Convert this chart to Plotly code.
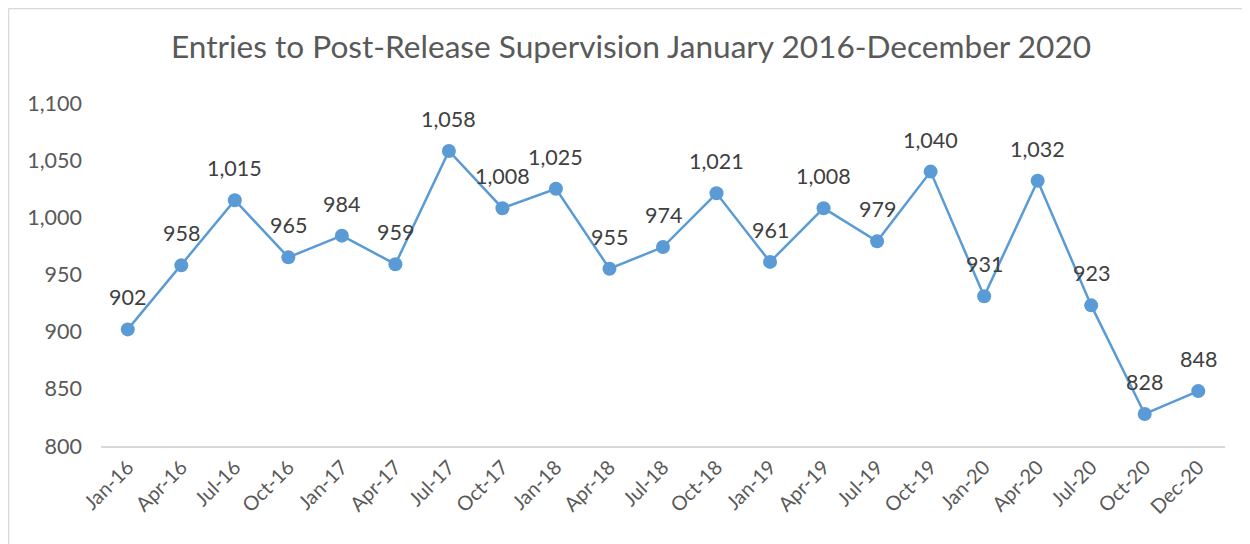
import plotly.graph_objects as go

months = ["Jan-16","Apr-16","Jul-16","Oct-16","Jan-17","Apr-17","Jul-17","Oct-17",
          "Jan-18","Apr-18","Jul-18","Oct-18","Jan-19","Apr-19","Jul-19","Oct-19",
          "Jan-20","Apr-20","Jul-20","Oct-20","Dec-20"]
entries = [902, 958, 1015, 965, 984, 959, 1058, 1008, 1025, 955, 974, 1021,
           961, 1008, 979, 1040, 931, 1032, 923, 828, 848]
y_ticks = [800, 850, 900, 950, 1000, 1050, 1100]

FONT = "Lato, 'Open Sans', sans-serif"

fig = go.Figure(go.Scatter(
    x=months, y=entries, mode="lines+markers",
    line=dict(color="#5B9BD5", width=2.5),
    marker=dict(color="#5B9BD5", size=14),
    hoverinfo="x+y",
))

for m, v in zip(months, entries):
    fig.add_annotation(x=m, y=v, text=f"{v:,}", showarrow=False,
                       yshift=32, xanchor="center", yanchor="middle",
                       font=dict(family=FONT, size=21.5, color="#404040"))

# page body has an 8px offset; figure coordinates are compensated
OFF = 8
W, H = 1250 - OFF, 544 - OFF
L, R, T, B = 101 - OFF, 25, 103 - OFF, 98
pw, ph = W - L - R, H - T - B

def px_x(p):
    return (p - OFF - L) / pw

def px_y(p):
    return (H - B - (p - OFF)) / ph

fig.update_layout(
    width=W, height=H,
    margin=dict(l=L, r=R, t=T, b=B, autoexpand=False),
    paper_bgcolor="white", plot_bgcolor="white",
    showlegend=False,
    title=dict(text="Entries to Post-Release Supervision January 2016-December 2020",
               x=(631 - OFF) / W, xanchor="center", y=1 - (47 - OFF) / H, yanchor="middle",
               font=dict(family=FONT, size=31.6, color="#595959")),
    xaxis=dict(type="category", range=[-0.5, len(months) - 0.5],
               tickangle=-45, showgrid=False, zeroline=False,
               showline=True, linecolor="#D9D9D9", linewidth=1.5, automargin=False,
               ticks="", tickfont=dict(family=FONT, size=20, color="#595959")),
    yaxis=dict(range=[800, 1100], tickvals=y_ticks,
               ticktext=[f"{v:,}" for v in y_ticks], automargin=False,
               showgrid=False, zeroline=False, showline=False, ticks="",
               ticklabelstandoff=18,
               tickfont=dict(family=FONT, size=21.5, color="#595959")),
    shapes=[
        dict(type="line", xref="paper", yref="paper",
             x0=px_x(8.5), x1=px_x(1270), y0=px_y(8.5), y1=px_y(8.5),
             line=dict(color="#D9D9D9", width=1.5)),
        dict(type="line", xref="paper", yref="paper",
             x0=px_x(8.5), x1=px_x(8.5), y0=px_y(8.5), y1=px_y(570),
             line=dict(color="#D9D9D9", width=1.5)),
    ],
)

fig.write_html("out.html")
